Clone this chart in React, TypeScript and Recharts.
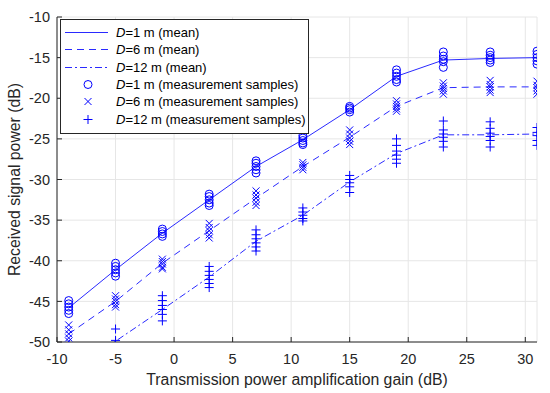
import React from "react";
import {
  CartesianGrid, ComposedChart, Legend, Line, Scatter, XAxis, YAxis,
} from "recharts";

const FONT = "'Liberation Sans', Arial, Helvetica, sans-serif";
const BLUE = "#0000ff";
const LINE_BLUE = "#2a2aff";
const AXIS = "#262626";

// transmission power amplification gain (dB)
const gains = [-9, -5, -1, 3, 7, 11, 15, 19, 23, 27, 31];
const xTicks = [-10, -5, 0, 5, 10, 15, 20, 25, 30];
const yTicks = [-50, -45, -40, -35, -30, -25, -20, -15, -10];

// mean received power (dB)
const meanD1 = [-45.8, -41.1, -36.6, -32.5, -28.4, -25.1, -21.4, -17.3, -15.3, -15.1, -15.0];
const meanD6 = [-49.0, -45.0, -40.3, -36.3, -32.3, -28.4, -24.8, -21.0, -18.7, -18.6, -18.6];
const meanD12 = [-54.0, -49.9, -46.0, -42.0, -37.6, -34.4, -30.3, -26.8, -24.5, -24.5, -24.4];

// measurement samples per gain
const samplesD1 = [
  [-44.9, -45.3, -45.7, -46.1, -46.5],
  [-40.3, -40.7, -41.1, -41.5, -41.9],
  [-36.1, -36.4, -36.7, -37.0],
  [-31.8, -32.1, -32.5, -32.9, -33.2],
  [-27.7, -28.0, -28.4, -28.8, -29.2],
  [-24.6, -24.9, -25.2, -25.5, -25.7],
  [-21.0, -21.2, -21.4, -21.7],
  [-16.5, -16.9, -17.3, -17.7, -18.0],
  [-14.3, -14.8, -15.2, -15.5, -16.2],
  [-14.3, -14.7, -15.0, -15.3, -15.6],
  [-14.2, -14.6, -15.0, -15.4, -15.8],
];
const samplesD6 = [
  [-47.9, -48.5, -49.0, -49.5, -49.9],
  [-44.3, -44.7, -45.0, -45.4, -45.7],
  [-39.8, -40.1, -40.4, -40.8, -41.0],
  [-35.4, -35.9, -36.3, -36.8, -37.2],
  [-31.4, -31.9, -32.3, -32.8, -33.2],
  [-27.9, -28.2, -28.5, -28.8],
  [-23.9, -24.4, -24.9, -25.3, -25.7],
  [-20.3, -20.7, -21.0, -21.3, -21.6],
  [-18.1, -18.5, -18.8, -19.1, -19.5],
  [-17.8, -18.3, -18.6, -19.0, -19.3],
  [-17.9, -18.4, -18.7, -19.1, -19.5],
];
const samplesD12 = [
  [],
  [-48.4, -49.8],
  [-44.3, -44.9, -45.5, -46.0, -46.6, -47.4],
  [-40.7, -41.3, -41.8, -42.3, -42.8, -43.3],
  [-36.2, -36.8, -37.3, -37.8, -38.3, -38.8],
  [-33.5, -34.0, -34.4, -34.8, -35.1],
  [-29.5, -30.0, -30.4, -30.9, -31.6],
  [-25.0, -25.8, -26.5, -27.0, -27.5, -28.0],
  [-22.8, -23.9, -24.4, -24.8, -25.3, -26.0],
  [-22.9, -23.7, -24.3, -24.7, -25.2, -26.0],
  [-23.6, -24.2, -24.6, -25.2, -25.8],
];

const toLine = (vals: number[]) => gains.map((x, i) => ({ x, y: vals[i] }));
const toPoints = (groups: number[][]) =>
  groups.flatMap((g, i) => g.map((y) => ({ x: gains[i], y })));

const CircleMark = ({ cx, cy }: any) => (
  <circle cx={cx} cy={cy} r={4} fill="none" stroke={BLUE} strokeWidth={1} />
);
const CrossMark = ({ cx, cy }: any) => (
  <path d={`M${cx - 3.5},${cy - 3.5}L${cx + 3.5},${cy + 3.5}M${cx - 3.5},${cy + 3.5}L${cx + 3.5},${cy - 3.5}`} stroke={BLUE} strokeWidth={1} />
);
const PlusMark = ({ cx, cy }: any) => (
  <path d={`M${cx - 4.5},${cy}L${cx + 4.5},${cy}M${cx},${cy - 4.5}L${cx},${cy + 4.5}`} stroke={BLUE} strokeWidth={1} />
);

const legendRows = [
  { label: "1 m (mean)", kind: "line", dash: undefined },
  { label: "6 m (mean)", kind: "line", dash: "7 5" },
  { label: "12 m (mean)", kind: "line", dash: "7 3 2 3" },
  { label: "1 m (measurement samples)", kind: "circle" },
  { label: "6 m (measurement samples)", kind: "cross" },
  { label: "12 m (measurement samples)", kind: "plus" },
];

function LegendBox() {
  return (
    <div
      style={{
        width: 247, height: 109, border: `1px solid ${AXIS}`, background: "#fff",
        fontFamily: FONT, fontSize: 13, color: "#000", paddingTop: 4, boxSizing: "content-box",
      }}
    >
      {legendRows.map((r) => (
        <div key={r.label} style={{ display: "flex", alignItems: "center", height: 17.3 }}>
          <svg width={55} height={17} style={{ flex: "none" }}>
            {r.kind === "line" && (
              <line x1={4} x2={47} y1={8.5} y2={8.5} stroke={LINE_BLUE} strokeWidth={1} strokeDasharray={r.dash} />
            )}
            {r.kind === "circle" && <CircleMark cx={27} cy={8.5} />}
            {r.kind === "cross" && <CrossMark cx={27} cy={8.5} />}
            {r.kind === "plus" && <PlusMark cx={27} cy={8.5} />}
          </svg>
          <span style={{ whiteSpace: "nowrap" }}>
            <i>D</i>={r.label}
          </span>
        </div>
      ))}
    </div>
  );
}

const TICK = { fill: AXIS, fontSize: 14.5, fontFamily: FONT };

export default function App() {
  return (
    <div style={{ position: "absolute", left: 0, top: 0, width: 550, height: 393, background: "#fff" }}>
      <ComposedChart width={550} height={393} margin={{ top: 17, right: 13, left: 0, bottom: 0 }}>
        <CartesianGrid stroke="#e6e6e6" strokeWidth={1} />
        <XAxis
          xAxisId={0} dataKey="x" type="number" domain={[-10, 31]} ticks={xTicks} allowDataOverflow
          height={51} stroke={AXIS} tickSize={-5} tickMargin={17} tick={TICK}
          label={{
            content: ({ viewBox }: any) => (
              <text x={viewBox.x + viewBox.width / 2} y={385} textAnchor="middle" fill={AXIS} fontSize={15.8} fontFamily={FONT}>
                Transmission power amplification gain (dB)
              </text>
            ),
          }}
        />
        <XAxis
          xAxisId="top" orientation="top" type="number" domain={[-10, 31]} ticks={xTicks} allowDataOverflow
          height={0} stroke={AXIS} tickSize={-5} tickFormatter={() => ""}
        />
        <YAxis
          yAxisId={0} dataKey="y" type="number" domain={[-50, -10]} ticks={yTicks} allowDataOverflow
          width={57} stroke={AXIS} tickSize={-5} tickMargin={12} tick={TICK}
          label={{
            content: ({ viewBox }: any) => {
              const cy = viewBox.y + viewBox.height / 2;
              return (
                <text x={20} y={cy} transform={`rotate(-90, 20, ${cy})`} textAnchor="middle" fill={AXIS} fontSize={15.8} fontFamily={FONT}>
                  Received signal power (dB)
                </text>
              );
            },
          }}
        />
        <YAxis
          yAxisId="right" orientation="right" type="number" domain={[-50, -10]} ticks={yTicks} allowDataOverflow
          width={0} stroke={AXIS} tickSize={-5} tickFormatter={() => ""}
        />
        <Line data={toLine(meanD1)} dataKey="y" stroke={LINE_BLUE} strokeWidth={1} dot={false} isAnimationActive={false} />
        <Line data={toLine(meanD6)} dataKey="y" stroke={LINE_BLUE} strokeWidth={1} strokeDasharray="7 5" dot={false} isAnimationActive={false} />
        <Line data={toLine(meanD12)} dataKey="y" stroke={LINE_BLUE} strokeWidth={1} strokeDasharray="7 3 2 3" dot={false} isAnimationActive={false} />
        <Scatter data={toPoints(samplesD1)} dataKey="y" shape={<CircleMark />} isAnimationActive={false} />
        <Scatter data={toPoints(samplesD6)} dataKey="y" shape={<CrossMark />} isAnimationActive={false} />
        <Scatter data={toPoints(samplesD12)} dataKey="y" shape={<PlusMark />} isAnimationActive={false} />
        <Legend
          layout="vertical" align="center" verticalAlign="middle"
          wrapperStyle={{ left: 60, top: 19, width: 249, height: 115 }}
          content={() => <LegendBox />}
        />
      </ComposedChart>
    </div>
  );
}
